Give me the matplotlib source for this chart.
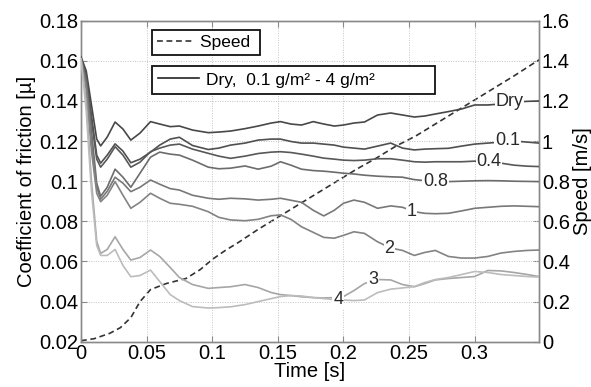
import matplotlib
matplotlib.use("Agg")
import matplotlib.pyplot as plt

plt.rcParams["font.family"] = ["Liberation Sans", "DejaVu Sans"]

# ── Friction curves (time grid shared by all eight curves) ───────────────────
T = [0, 0.004, 0.008, 0.012, 0.015, 0.02, 0.026, 0.032, 0.038, 0.045, 0.053,
     0.06, 0.068, 0.075, 0.085, 0.097, 0.105, 0.114, 0.125, 0.135, 0.145,
     0.152, 0.16, 0.168, 0.177, 0.185, 0.193, 0.2, 0.208, 0.216, 0.226,
     0.236, 0.245, 0.254, 0.262, 0.27, 0.28, 0.29, 0.3, 0.31, 0.32, 0.33,
     0.34, 0.349]

MU_DRY = [0.162, 0.155, 0.138, 0.121, 0.1176, 0.122, 0.1295, 0.126, 0.1205,
          0.124, 0.1297, 0.1285, 0.1272, 0.1275, 0.1255, 0.1242, 0.1245, 0.125,
          0.1262, 0.1275, 0.129, 0.1297, 0.1285, 0.128, 0.1297, 0.1285, 0.1275,
          0.128, 0.129, 0.1295, 0.133, 0.134, 0.133, 0.132, 0.1325, 0.1335,
          0.1347, 0.136, 0.138, 0.138, 0.1385, 0.1395, 0.1398, 0.140]
MU_01 = [0.161, 0.153, 0.133, 0.113, 0.109, 0.113, 0.1186, 0.115, 0.1092,
         0.111, 0.1145, 0.118, 0.121, 0.1219, 0.1178, 0.1158, 0.1165, 0.118,
         0.119, 0.1205, 0.121, 0.121, 0.1198, 0.119, 0.119, 0.1185, 0.118,
         0.117, 0.1165, 0.116, 0.1175, 0.119, 0.1165, 0.1156, 0.116, 0.1162,
         0.1164, 0.1175, 0.1185, 0.119, 0.1195, 0.120, 0.1195, 0.119]
MU_04 = [0.161, 0.152, 0.130, 0.111, 0.107, 0.111, 0.1172, 0.113, 0.107,
         0.1095, 0.1147, 0.1165, 0.118, 0.1185, 0.116, 0.1139, 0.1125, 0.1114,
         0.1125, 0.1138, 0.1145, 0.1147, 0.1143, 0.1135, 0.1125, 0.1115, 0.111,
         0.1105, 0.1103, 0.1105, 0.1112, 0.1112, 0.1105, 0.1097, 0.1095, 0.1097,
         0.1097, 0.1097, 0.110, 0.1097, 0.109, 0.108, 0.1075, 0.1073]
MU_08 = [0.161, 0.150, 0.125, 0.099, 0.0925, 0.097, 0.106, 0.102, 0.097,
         0.104, 0.112, 0.1145, 0.1135, 0.113, 0.1105, 0.107, 0.1062, 0.1065,
         0.1076, 0.106, 0.1075, 0.1097, 0.108, 0.106, 0.1053, 0.105, 0.1045,
         0.104, 0.1036, 0.103, 0.1025, 0.1022, 0.102, 0.1008, 0.1003, 0.100,
         0.0998, 0.100, 0.1002, 0.1003, 0.1002, 0.100, 0.0999, 0.0998]
MU_1 = [0.161, 0.148, 0.120, 0.097, 0.091, 0.095, 0.102, 0.099, 0.0948,
        0.097, 0.1006, 0.0985, 0.0963, 0.0956, 0.093, 0.0915, 0.091, 0.0915,
        0.0912, 0.0906, 0.091, 0.0915, 0.0905, 0.0895, 0.0855, 0.0827, 0.0855,
        0.089, 0.0906, 0.0895, 0.0865, 0.0877, 0.087, 0.0848, 0.084, 0.0838,
        0.084, 0.0852, 0.0865, 0.087, 0.0875, 0.0877, 0.0875, 0.0873]
MU_2 = [0.161, 0.146, 0.115, 0.094, 0.0898, 0.093, 0.0998, 0.093, 0.0865,
        0.0895, 0.094, 0.0915, 0.089, 0.0885, 0.0875, 0.0848, 0.082, 0.0807,
        0.0803, 0.081, 0.0828, 0.0832, 0.081, 0.0773, 0.0745, 0.072, 0.0716,
        0.073, 0.0748, 0.074, 0.0698, 0.0667, 0.0655, 0.063, 0.0645, 0.0655,
        0.0625, 0.0617, 0.0617, 0.0625, 0.0642, 0.065, 0.0655, 0.0657]
MU_3 = [0.161, 0.140, 0.100, 0.070, 0.064, 0.066, 0.0723, 0.066, 0.0607,
        0.062, 0.0657, 0.0625, 0.057, 0.052, 0.0485, 0.0466, 0.047, 0.0474,
        0.0485, 0.047, 0.0445, 0.0435, 0.043, 0.0424, 0.042, 0.0418, 0.042,
        0.0425, 0.0455, 0.049, 0.051, 0.0508, 0.0485, 0.0474, 0.049, 0.0508,
        0.0515, 0.052, 0.0525, 0.0555, 0.0553, 0.0545, 0.0535, 0.0525]
MU_4 = [0.161, 0.135, 0.095, 0.068, 0.063, 0.063, 0.066, 0.058, 0.0524,
        0.053, 0.0557, 0.050, 0.0435, 0.0405, 0.0375, 0.0368, 0.037, 0.0374,
        0.0385, 0.040, 0.0415, 0.0425, 0.043, 0.0428, 0.042, 0.0415, 0.041,
        0.0408, 0.0405, 0.0408, 0.0445, 0.0462, 0.0468, 0.0475, 0.0495, 0.051,
        0.052, 0.0535, 0.055, 0.0545, 0.0535, 0.053, 0.0525, 0.0522]

CURVES = [MU_DRY, MU_01, MU_04, MU_08, MU_1, MU_2, MU_3, MU_4]
CURVE_LABELS = ["Dry", "0.1", "0.4", "0.8", "1", "2", "3", "4"]
CURVE_COLORS = ["#484848", "#505050", "#585858", "#6c6c6c",
                "#787878", "#838383", "#a6a6a6", "#bcbcbc"]
# where the inline labels sit (time, mu)
LABEL_T = [0.3265, 0.325, 0.311, 0.270, 0.252, 0.235, 0.2225, 0.196]
LABEL_MU = [0.1395, 0.1205, 0.1097, 0.1001, 0.0848, 0.0667, 0.0510, 0.0408]

# ── Speed (right axis) ───────────────────────────────────────────────────────
T_SPEED = [0, 0.01, 0.022, 0.03, 0.038, 0.045, 0.053, 0.065, 0.08, 0.091,
           0.1, 0.11, 0.12, 0.135, 0.15, 0.165, 0.18, 0.195, 0.21, 0.225,
           0.24, 0.255, 0.27, 0.285, 0.3, 0.315, 0.33, 0.349]
SPEED = [0.005, 0.015, 0.042, 0.07, 0.12, 0.2, 0.26, 0.29, 0.315, 0.36,
         0.41, 0.455, 0.495, 0.56, 0.62, 0.68, 0.74, 0.80, 0.86, 0.915,
         0.975, 1.025, 1.085, 1.145, 1.205, 1.265, 1.325, 1.405]

X_TICKS = [0, 0.05, 0.1, 0.15, 0.2, 0.25, 0.3]
X_TICKLABELS = ["0", "0.05", "0.1", "0.15", "0.2", "0.25", "0.3"]
Y_TICKS = [0.02, 0.04, 0.06, 0.08, 0.1, 0.12, 0.14, 0.16, 0.18]
Y_TICKLABELS = ["0.02", "0.04", "0.06", "0.08", "0.1", "0.12", "0.14", "0.16", "0.18"]
Y2_TICKS = [0, 0.2, 0.4, 0.6, 0.8, 1.0, 1.2, 1.4, 1.6]
Y2_TICKLABELS = ["0", "0.2", "0.4", "0.6", "0.8", "1", "1.2", "1.4", "1.6"]

SPINE = "#8a8a8a"
TICK_FS = 14.5

fig = plt.figure(figsize=(5.91, 3.87), dpi=100)
ax = fig.add_axes([0.137, 0.117, 0.775, 0.8295])
ax2 = ax.twinx()

for mu, col in zip(CURVES, CURVE_COLORS):
    ax.plot(T, mu, color=col, lw=1.2, zorder=3, solid_joinstyle="round")

for lbl, tx, ty in zip(CURVE_LABELS, LABEL_T, LABEL_MU):
    ax.text(tx, ty, lbl, ha="center", va="center", fontsize=13, color="#2a2a2a",
            zorder=5, bbox=dict(facecolor="white", edgecolor="none", pad=0.5))

ax2.plot(T_SPEED, SPEED, color="#333333", lw=1.2, dashes=(3.5, 2.2), zorder=4)

ax.set_xlim(0, 0.349)
ax.set_ylim(0.02, 0.18)
ax2.set_ylim(0, 1.6)

ax.set_xticks(X_TICKS)
ax.set_xticklabels(X_TICKLABELS)
ax.set_yticks(Y_TICKS)
ax.set_yticklabels(Y_TICKLABELS)
ax2.set_yticks(Y2_TICKS)
ax2.set_yticklabels(Y2_TICKLABELS)

ax.grid(True, color="#c4c4c4", lw=0.7, linestyle=(0, (1, 1.5)))
ax.tick_params(direction="in", length=4, labelsize=TICK_FS, pad=2,
               color=SPINE, top=True)
ax2.tick_params(direction="in", length=4, labelsize=TICK_FS, pad=2, color=SPINE)
for a in (ax, ax2):
    for s in a.spines.values():
        s.set_color(SPINE)
        s.set_linewidth(1.0)

ax.set_xlabel("Time [s]", fontsize=14.5, labelpad=-1)
ax.set_ylabel("Coefficient of friction [µ]", fontsize=14.5, labelpad=2)
ax2.set_ylabel("Speed [m/s]", fontsize=14.5, labelpad=2)

# two separate framed legend boxes
leg1 = ax.legend([ax2.lines[0]], ["Speed "], loc="upper left",
                 bbox_to_anchor=(0.154, 0.972), borderaxespad=0,
                 fontsize=12.5, handlelength=2.2, handletextpad=0.3,
                 fancybox=False, framealpha=1, edgecolor="#111111",
                 borderpad=0.3)
leg1.get_frame().set_linewidth(1.3)
ax.add_artist(leg1)
leg2 = ax.legend([ax.lines[0]], ["Dry,  0.1 g/m² - 4 g/m²           "],
                 loc="upper left", bbox_to_anchor=(0.154, 0.858),
                 borderaxespad=0, fontsize=12.5, handlelength=2.4,
                 handletextpad=0.4, fancybox=False, framealpha=1,
                 edgecolor="#111111", borderpad=0.35)
leg2.get_frame().set_linewidth(1.3)
leg2.get_lines()[0].set_color("#222222")

ax.set_zorder(ax2.get_zorder() + 1)
ax.patch.set_visible(False)

fig.savefig("out.png", dpi=100)
